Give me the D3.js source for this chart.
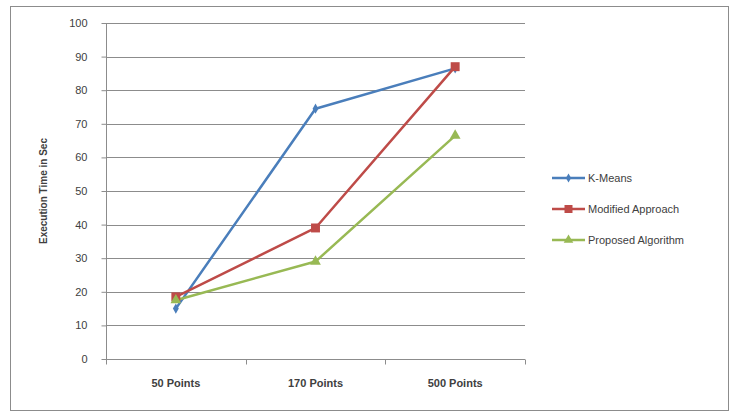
<!DOCTYPE html>
<html>
<head>
<meta charset="utf-8">
<script src="https://cdn.jsdelivr.net/npm/d3@7"></script>
<style>
  body { margin: 0; background: #fff; }
  text { font-family: "Liberation Sans", Arial, sans-serif; fill: #404040; }
</style>
</head>
<body>
<svg id="chart" width="733" height="412"></svg>
<script>
// data
var categories = ["50 Points", "170 Points", "500 Points"];
var seriesNames = ["K-Means", "Modified Approach", "Proposed Algorithm"];
var kMeans = [15, 74.5, 86.5];
var modified = [18.5, 39, 87];
var proposed = [17.5, 29, 66.5];
var yTicks = [0, 10, 20, 30, 40, 50, 60, 70, 80, 90, 100];

var colors = ["#4a7ebb", "#be4b48", "#98b954"];
var symbols = [d3.symbolDiamond, d3.symbolSquare, d3.symbolTriangle];
var symbolSizes = [30, 80, 50];
var series = [kMeans, modified, proposed];

var svg = d3.select("#chart");

// outer frame
svg.append("rect")
  .attr("x", 10.5).attr("y", 6.5)
  .attr("width", 718).attr("height", 404)
  .attr("fill", "#fff").attr("stroke", "#8c8c8c");

var plot = { left: 106, right: 525, top: 23, bottom: 359 };

var x = d3.scaleBand().domain(categories).range([plot.left, plot.right]);
var y = d3.scaleLinear().domain([0, 100]).range([plot.bottom, plot.top]);

// gridlines
svg.append("g")
  .selectAll("line")
  .data(yTicks.filter(function (d) { return d > 0; }))
  .enter().append("line")
  .attr("x1", plot.left).attr("x2", plot.right)
  .attr("y1", function (d) { return Math.round(y(d)) + 0.5; })
  .attr("y2", function (d) { return Math.round(y(d)) + 0.5; })
  .attr("stroke", "#8c8c8c").attr("stroke-width", 1);

// y axis
var yAxis = d3.axisLeft(y).tickValues(yTicks).tickSize(5).tickPadding(14);
var gy = svg.append("g")
  .attr("transform", "translate(" + (plot.left + 0.5) + ",0)")
  .call(yAxis);
gy.select(".domain").attr("stroke", "#8c8c8c").attr("d", "M0," + plot.top + "V" + plot.bottom);
gy.selectAll(".tick line").attr("stroke", "#8c8c8c");
gy.selectAll(".tick text").style("font-size", "11px").attr("fill", "#404040");

// x axis
var xAxis = d3.axisBottom(x).tickSize(0).tickPadding(20);
var gx = svg.append("g")
  .attr("transform", "translate(0," + (plot.bottom + 0.5) + ")")
  .call(xAxis);
gx.select(".domain").attr("stroke", "#8c8c8c").attr("d", "M" + plot.left + ",0H" + plot.right);
gx.selectAll(".tick text").style("font-size", "11px").style("font-weight", "bold").attr("fill", "#505050");
// category boundary ticks
gx.append("g").selectAll("line")
  .data(categories.concat(["end"]))
  .enter().append("line")
  .attr("x1", function (d, i) { return Math.round(plot.left + i * x.step()) + 0.5; })
  .attr("x2", function (d, i) { return Math.round(plot.left + i * x.step()) + 0.5; })
  .attr("y1", 0).attr("y2", 5)
  .attr("stroke", "#8c8c8c");

// y axis title
svg.append("text")
  .attr("transform", "translate(47," + ((plot.top + plot.bottom) / 2) + ") rotate(-90)")
  .attr("text-anchor", "middle")
  .style("font-size", "10px").style("font-weight", "bold")
  .text("Execution Time in Sec");

// lines
var line = d3.line()
  .x(function (d, i) { return x(categories[i]) + x.bandwidth() / 2; })
  .y(function (d) { return y(d); });

series.forEach(function (s, k) {
  svg.append("path")
    .datum(s)
    .attr("d", line)
    .attr("fill", "none")
    .attr("stroke", colors[k])
    .attr("stroke-width", 2.5)
    .attr("stroke-linejoin", "round");
});

series.forEach(function (s, k) {
  svg.append("g").selectAll("path")
    .data(s)
    .enter().append("path")
    .attr("transform", function (d, i) {
      return "translate(" + (x(categories[i]) + x.bandwidth() / 2) + "," + y(d) + ")";
    })
    .attr("d", d3.symbol().type(symbols[k]).size(symbolSizes[k]))
    .attr("fill", colors[k]);
});

// legend
var legend = svg.append("g").attr("transform", "translate(552,178)");
seriesNames.forEach(function (name, k) {
  var g = legend.append("g").attr("transform", "translate(0," + (k * 31) + ")");
  g.append("line").attr("x1", 0).attr("x2", 33).attr("y1", 0).attr("y2", 0)
    .attr("stroke", colors[k]).attr("stroke-width", 2.5);
  g.append("path").attr("transform", "translate(16.5,0)")
    .attr("d", d3.symbol().type(symbols[k]).size(symbolSizes[k] * 0.8))
    .attr("fill", colors[k]);
  g.append("text").attr("x", 36).attr("y", 4)
    .style("font-size", "11px")
    .text(name);
});
</script>
</body>
</html>
